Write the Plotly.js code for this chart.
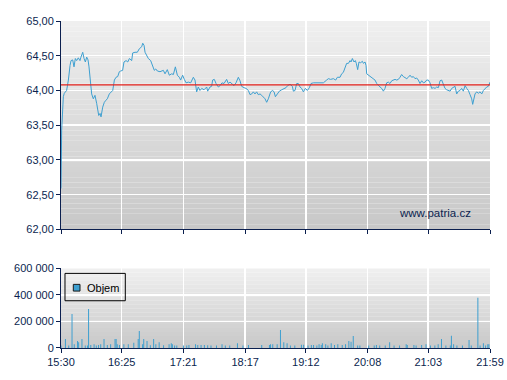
<!DOCTYPE html>
<html>
<head>
<meta charset="utf-8">
<script src="https://cdn.plot.ly/plotly-3.0.1.min.js"></script>
<style>html,body{margin:0;padding:0;background:#fff;}#chart{width:507px;height:380px;}</style>
</head>
<body>
<div id="chart"></div>
<script>
// ---- data ----
const sessionStart = "15:30";
const xTickLabels = ["15:30","16:25","17:21","18:17","19:12","20:08","21:03","21:59"];
const priceRange = [62, 65];
const priceTicks = [62, 62.5, 63, 63.5, 64, 64.5, 65];
const volumeRange = [0, 600000];
const volumeTicks = [0, 200000, 400000, 600000];
const refPrice = 64.08;
const watermark = "www.patria.cz";
const legendLabel = "Objem";

// minutes after session start
const priceMinutes = [0,0.3,0.6,2.1,3.0,5.1,6.7,8.2,9.1,10.6,11.8,13.0,14.2,15.7,17.2,18.1,19.7,20.9,22.1,23.3,24.5,25.4,26.3,27.8,29.3,30.8,32.4,34.2,35.4,36.3,37.8,39.3,40.8,42.0,43.8,45.3,46.9,48.4,49.9,51.4,52.9,54.1,55.9,57.1,59.0,60.5,62.0,64.1,65.0,67.1,69.2,71.0,73.2,74.1,75.3,76.2,77.7,79.2,81.3,83.1,84.6,85.9,87.4,89.8,92.8,94.3,96.4,98.2,100.4,101.9,103.7,105.5,107.3,108.5,110.3,111.8,113.4,115.5,117.6,120.0,121.5,123.0,124.5,126.0,127.6,129.7,132.1,133.0,135.1,136.6,137.5,139.0,140.6,142.7,144.2,146.0,147.8,150.2,151.7,153.3,154.8,156.9,158.7,160.8,162.3,163.8,165.9,167.8,169.9,171.4,172.9,174.4,175.9,177.4,178.9,180.5,182.0,183.5,185.0,186.5,188.0,190.1,191.9,193.2,194.4,196.2,198.0,200.1,202.2,204.0,205.5,207.7,209.8,210.7,212.2,213.7,215.2,216.7,218.2,219.8,221.6,223.4,225.2,226.7,228.8,231.8,234.3,236.4,237.9,240.9,242.4,244.5,247.0,249.1,250.6,253.0,254.5,256.0,257.5,259.0,260.6,262.1,263.0,264.2,265.7,266.9,267.8,269.0,270.2,271.7,273.3,274.2,275.7,276.6,277.2,278.7,280.2,281.7,283.2,284.7,286.3,287.8,289.3,290.8,292.3,293.8,295.3,296.8,298.3,299.9,301.4,302.9,304.4,305.9,307.4,308.9,310.4,311.9,313.5,315.0,316.5,318.0,319.5,321.0,322.5,324.0,325.5,327.1,328.6,330.1,331.6,333.1,334.6,336.1,337.6,339.2,340.7,342.2,343.7,345.2,346.7,348.2,349.7,351.2,352.8,354.3,355.8,357.3,358.8,360.3,361.8,363.3,364.8,366.4,367.9,369.4,370.9,372.4,373.3,374.5,375.4,376.9,378.4,380.0,381.5,383.0,384.5,386.0,387.5,389.0];
const priceValues = [62.59,62.95,63.43,63.91,63.96,64.00,64.15,64.36,64.43,64.44,64.34,64.46,64.43,64.47,64.43,64.48,64.55,64.46,64.41,64.48,64.44,64.34,64.15,63.95,63.88,63.93,63.81,63.64,63.67,63.62,63.76,63.83,63.86,63.88,63.95,63.98,64.00,64.15,64.19,64.20,64.27,64.28,64.29,64.41,64.43,64.41,64.46,64.43,64.54,64.55,64.55,64.60,64.63,64.68,64.65,64.55,64.51,64.46,64.43,64.36,64.29,64.31,64.28,64.27,64.29,64.24,64.30,64.22,64.24,64.23,64.34,64.22,64.19,64.15,64.22,64.16,64.11,64.12,64.11,64.19,64.15,63.98,64.05,64.00,64.03,64.01,64.05,63.99,64.05,64.06,64.15,64.16,64.10,64.05,64.07,64.11,64.10,64.16,64.10,64.12,64.10,64.07,64.11,64.19,64.14,64.06,64.04,64.03,64.00,63.94,63.95,63.98,63.95,63.98,63.94,63.95,63.93,63.91,63.88,63.83,63.88,63.98,64.00,63.98,63.91,63.95,63.99,64.01,64.03,64.04,64.07,64.09,64.06,63.99,64.00,64.10,64.10,64.05,64.03,63.98,64.03,64.00,64.04,64.10,64.11,64.11,64.10,64.11,64.11,64.15,64.17,64.16,64.17,64.15,64.19,64.19,64.24,64.26,64.34,64.39,64.39,64.43,64.41,64.46,64.41,64.43,64.39,64.30,64.41,64.40,64.42,64.39,64.41,64.36,64.24,64.22,64.20,64.19,64.17,64.15,64.10,64.07,64.05,64.03,63.99,64.03,64.11,64.12,64.10,64.14,64.15,64.16,64.15,64.16,64.19,64.23,64.20,64.19,64.17,64.19,64.22,64.19,64.20,64.17,64.18,64.15,64.10,64.14,64.11,64.12,64.15,64.15,64.11,64.03,64.04,64.03,64.05,64.04,64.14,64.15,64.10,64.03,64.01,64.00,63.99,64.03,64.04,64.06,63.95,63.99,64.00,64.03,63.99,64.07,64.03,64.00,63.94,63.88,63.80,63.91,63.95,63.98,63.96,63.98,63.95,64.00,64.03,64.05,64.06,64.12];

const volumeMinutes = [0,4,7,10,12,15,16,19,22,24,25,27,30,32,34,36,39,42,45,49,50,51,53,57,61,66,70,71,74,75,78,81,84,86,89,93,98,100,101,103,105,111,114,116,122,124,127,130,133,136,141,146,149,153,160,165,170,182,189,190,192,196,199,202,205,208,212,218,220,224,227,229,232,234,236,237,240,242,245,248,251,255,258,261,263,265,269,271,279,284,286,289,294,298,302,307,313,314,320,322,327,331,335,339,342,345,349,353,354,356,359,364,370,372,378,380,383,385,387,388];
const volumeValues = [18000,68000,18000,256000,28000,53000,43000,68000,18000,18000,294000,23000,28000,18000,23000,28000,68000,23000,28000,68000,68000,28000,23000,28000,28000,40000,68000,128000,28000,68000,53000,20000,68000,28000,43000,20000,28000,35000,28000,18000,18000,18000,18000,23000,28000,23000,23000,23000,20000,18000,18000,28000,18000,18000,35000,18000,23000,23000,23000,28000,28000,28000,135000,43000,35000,18000,18000,25000,25000,18000,23000,23000,18000,28000,23000,35000,28000,18000,35000,23000,28000,23000,28000,53000,48000,90000,18000,18000,18000,18000,23000,18000,18000,43000,18000,18000,28000,23000,23000,18000,23000,28000,18000,18000,28000,68000,18000,18000,93000,28000,18000,18000,60000,18000,379000,18000,35000,18000,28000,28000];

// ---- helpers ----
function toMinutes(hhmm) {
  const p = hhmm.split(":").map(Number);
  const s = sessionStart.split(":").map(Number);
  return (p[0] * 60 + p[1]) - (s[0] * 60 + s[1]);
}
const xTickVals = xTickLabels.map(toMinutes);
const xRange = [xTickVals[0], xTickVals[xTickVals.length - 1]];

const NAVY = "#0b1f4f";
const LINE_BLUE = "#3d9fd0";
const FONT = "Liberation Sans, Arial, sans-serif";

function hex(c) { return [parseInt(c.slice(1,3),16), parseInt(c.slice(3,5),16), parseInt(c.slice(5,7),16)]; }
function gradientShapes(xref, yref, topCol, botCol, n) {
  const a = hex(topCol), b = hex(botCol), out = [];
  for (let i = 0; i < n; i++) {
    const t = (i + 0.5) / n;
    const c = a.map((v, k) => Math.round(v + (b[k] - v) * t));
    out.push({
      type: "rect", xref: xref, yref: yref, layer: "below",
      x0: 0, x1: 1, y0: 1 - (i + 1) / n, y1: 1 - i / n,
      fillcolor: "rgb(" + c.join(",") + ")", line: {width: 0}
    });
  }
  return out;
}

// domains computed from the pixel layout of the reference
const topDomain = [0.3626, 1];
const botDomain = [0, 0.2434];

const traces = [
  {
    type: "scatter", mode: "lines", name: "Cena",
    x: priceMinutes, y: priceValues, xaxis: "x", yaxis: "y",
    line: {color: LINE_BLUE, width: 1}, hoverinfo: "skip", showlegend: false
  },
  {
    type: "bar", name: legendLabel,
    x: volumeMinutes, y: volumeValues, xaxis: "x2", yaxis: "y2",
    width: 0.9, marker: {color: LINE_BLUE, line: {width: 0}},
    hoverinfo: "skip", showlegend: false
  }
];

const axisCommon = {
  showline: true, linecolor: NAVY, linewidth: 1,
  ticks: "outside", tickcolor: NAVY, tickwidth: 1,
  showgrid: true, gridcolor: "#ffffff", gridwidth: 1.5,
  zeroline: false, mirror: false,
  tickfont: {family: FONT, size: 11, color: NAVY}
};

let shapes = []
  .concat(gradientShapes("x domain", "y domain", "#f0f0f0", "#c7c7c7", 40))
  .concat(gradientShapes("x2 domain", "y2 domain", "#f0f0f0", "#c8c8c8", 20));

shapes.push({
  type: "line", xref: "x domain", yref: "y", x0: 0, x1: 1, y0: refPrice, y1: refPrice,
  line: {color: "#e3201b", width: 1.2}, layer: "above"
});
// custom legend box
shapes.push({
  type: "rect", xref: "paper", yref: "paper", x0: 0.0093, x1: 0.1499, y0: 0.1445, y1: 0.2282,
  line: {color: "#000000", width: 1}, fillcolor: "rgba(0,0,0,0)", layer: "above"
});
shapes.push({
  type: "rect", xref: "paper", yref: "paper", x0: 0.0287, x1: 0.0443, y0: 0.1741, y1: 0.1946,
  line: {color: "#1a1a1a", width: 1}, fillcolor: LINE_BLUE, layer: "above"
});

const layout = {
  width: 507, height: 380,
  margin: {l: 61, r: 17, t: 21, b: 32, pad: 0},
  paper_bgcolor: "#ffffff", plot_bgcolor: "rgba(0,0,0,0)",
  separators: ", ",
  showlegend: false,
  font: {family: FONT, size: 11, color: NAVY},
  xaxis: Object.assign({}, axisCommon, {
    domain: [0, 1], anchor: "y", range: xRange,
    tickmode: "array", tickvals: xTickVals, ticktext: xTickLabels,
    showticklabels: false, ticklen: 4
  }),
  yaxis: Object.assign({}, axisCommon, {
    domain: topDomain, anchor: "x", range: priceRange,
    tickmode: "array", tickvals: priceTicks, tickformat: ".2f", ticklen: 4
  }),
  xaxis2: Object.assign({}, axisCommon, {
    domain: [0, 1], anchor: "y2", range: xRange,
    tickmode: "array", tickvals: xTickVals, ticktext: xTickLabels,
    showticklabels: true, ticklen: 4
  }),
  yaxis2: Object.assign({}, axisCommon, {
    domain: botDomain, anchor: "x2", range: volumeRange,
    tickmode: "array", tickvals: volumeTicks, tickformat: ",d", ticklen: 4
  }),
  shapes: shapes,
  annotations: [
    {
      xref: "paper", yref: "paper", x: 0.960, y: 0.4114, xanchor: "right", yanchor: "middle",
      text: watermark, showarrow: false, font: {family: FONT, size: 11.5, color: NAVY}
    },
    {
      xref: "paper", yref: "paper", x: 0.0559, y: 0.1842, xanchor: "left", yanchor: "middle",
      text: legendLabel, showarrow: false, font: {family: FONT, size: 11, color: "#000000"}
    }
  ]
};

Plotly.newPlot("chart", traces, layout, {staticPlot: true, displayModeBar: false});
</script>
</body>
</html>
